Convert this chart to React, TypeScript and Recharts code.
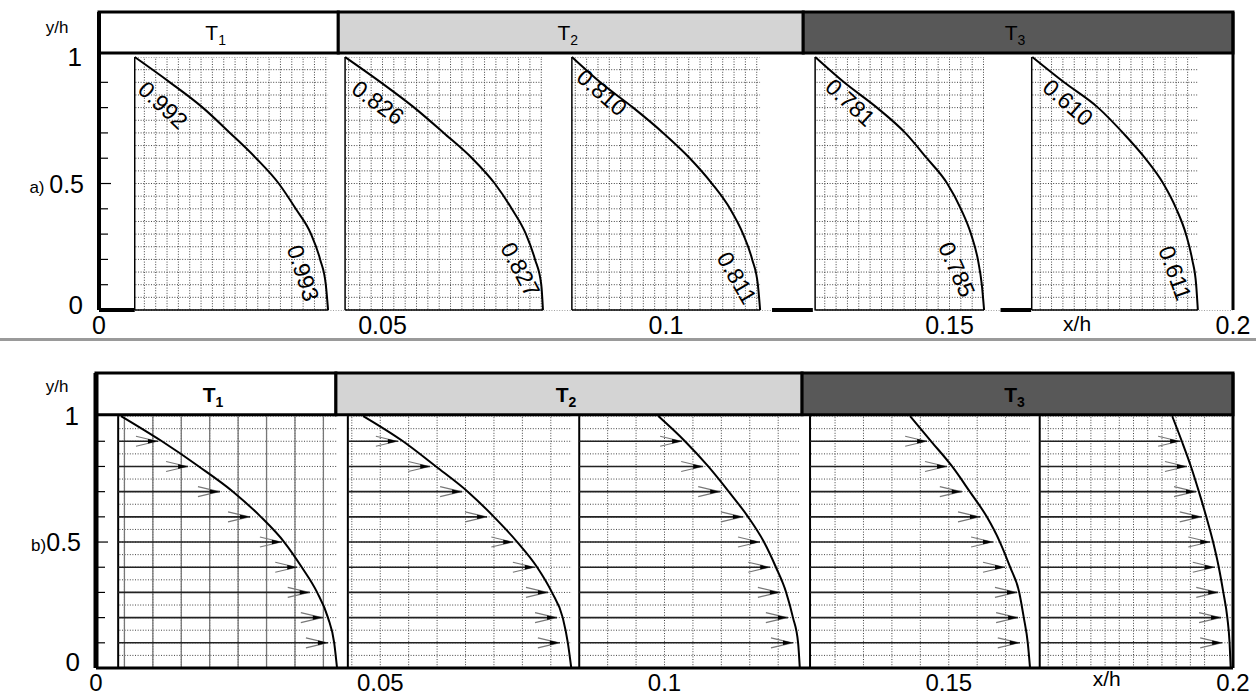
import React from 'react';
import {
  ComposedChart,
  Line,
  XAxis,
  YAxis,
  CartesianGrid,
  ReferenceArea,
  ReferenceLine,
  ReferenceDot,
} from 'recharts';

const FONT = '"Liberation Sans", Arial, Helvetica, sans-serif';

// y/h levels at which the profiles were read (top to bottom)
const yLevels = [1, 0.9, 0.8, 0.7, 0.6, 0.5, 0.4, 0.3, 0.2, 0.1, 0];
const arrowLevels = [0.9, 0.8, 0.7, 0.6, 0.5, 0.4, 0.3, 0.2, 0.1];

// ---------- panel a : profile curves (x/h at each y level) ----------
const a1X = [0.0063, 0.0125, 0.0183, 0.0231, 0.0277, 0.0317, 0.0347, 0.0374, 0.039, 0.04, 0.0404];
const a2X = [0.0434, 0.0497, 0.0556, 0.0608, 0.0658, 0.0698, 0.0728, 0.0753, 0.0769, 0.078, 0.0783];
const a3X = [0.0834, 0.0884, 0.0942, 0.0995, 0.1042, 0.1081, 0.1113, 0.1136, 0.1152, 0.1162, 0.1166];
const a4X = [0.1263, 0.1314, 0.1372, 0.1422, 0.146, 0.1496, 0.152, 0.1538, 0.155, 0.1557, 0.1561];
const a5X = [0.1646, 0.1702, 0.1762, 0.1806, 0.1845, 0.1877, 0.19, 0.1917, 0.1928, 0.1935, 0.1938];
const aProfiles = [a1X, a2X, a3X, a4X, a5X];
const aLeft = [0.0063, 0.0434, 0.0834, 0.1263, 0.1645];
const aRight = [0.0404, 0.0783, 0.1166, 0.1561, 0.1938];
const aThickStart = [0, 0.1187, 0.159];
const aThickEnd = [0.0063, 0.1259, 0.1644];

const aTopText = ['0.992', '0.826', '0.810', '0.781', '0.610'];
const aTopX = [0.0113, 0.0492, 0.0887, 0.1325, 0.1709];
const aTopY = [0.81, 0.82, 0.86, 0.82, 0.82];
const aTopAngle = [43, 36, 41, 43, 41];
const aBotText = ['0.993', '0.827', '0.811', '0.785', '0.611'];
const aBotX = [0.036, 0.0743, 0.1125, 0.1513, 0.1898];
const aBotY = [0.146, 0.16, 0.127, 0.16, 0.146];
const aBotAngle = [72, 62, 60, 66, 70];

// ---------- panel b : profile curves and arrows ----------
const b1X = [0.0044, 0.0116, 0.0181, 0.0241, 0.029, 0.0331, 0.0362, 0.0389, 0.0408, 0.0419, 0.0424];
const b2X = [0.047, 0.054, 0.0598, 0.0654, 0.07, 0.0741, 0.0776, 0.0802, 0.0821, 0.083, 0.0836];
const b3X = [0.0989, 0.1036, 0.1077, 0.1113, 0.1147, 0.1175, 0.1196, 0.1214, 0.1226, 0.1235, 0.1238];
const b4X = [0.1432, 0.1469, 0.1506, 0.1537, 0.1567, 0.159, 0.1608, 0.1624, 0.1632, 0.1639, 0.1643];
const b5X = [0.1893, 0.191, 0.1926, 0.194, 0.1953, 0.1965, 0.1975, 0.1983, 0.199, 0.1994, 0.1996];
const bProfiles = [b1X, b2X, b3X, b4X, b5X];
const bLeft = [0.0039, 0.0443, 0.085, 0.1256, 0.166];
const bRight = [0.0424, 0.0836, 0.1238, 0.1643, 0.1996];

// arrow tips (x/h) at y = 0.9 ... 0.1
const b1Arrow = [0.0109, 0.0162, 0.0218, 0.0271, 0.0327, 0.0354, 0.0376, 0.0399, 0.0408];
const b2Arrow = [0.0531, 0.0588, 0.0644, 0.0688, 0.0734, 0.0772, 0.0795, 0.0811, 0.0816];
const b3Arrow = [0.1031, 0.1068, 0.1098, 0.1138, 0.1168, 0.1186, 0.1203, 0.1217, 0.1226];
const b4Arrow = [0.1462, 0.1497, 0.1523, 0.1555, 0.1578, 0.1599, 0.162, 0.1622, 0.1625];
const b5Arrow = [0.1907, 0.1919, 0.1935, 0.1945, 0.196, 0.1968, 0.1974, 0.1979, 0.1981];
const bArrows = [b1Arrow, b2Arrow, b3Arrow, b4Arrow, b5Arrow];

// ---------- header bands ----------
const headerSubs = ['1', '2', '3'];
const headerStart = [0, 0.0422, 0.1242];
const headerEnd = [0.0422, 0.1242, 0.2];
const headerFills = ['#ffffff', '#d4d4d4', '#585858'];

// ---------- ticks ----------
const xTicksA = Array.from({ length: 101 }, (_, i) => Math.round(i * 2) / 1000);
const xTicksB = Array.from({ length: 41 }, (_, i) => Math.round(i * 5) / 1000);
const yTicks = Array.from({ length: 21 }, (_, i) => Math.round(i * 5) / 100);

const toPts = (xs: number[]) => xs.map((x, i) => ({ x, y: yLevels[i] }));

const isMult = (v: number, step: number) => Math.abs(v / step - Math.round(v / step)) < 1e-6;

function makeXTick(dy: number, size: number) {
  return (props: any) => {
    const { x, y, payload } = props;
    const v = payload.value;
    if (!isMult(v, 0.05)) return <g />;
    return (
      <text x={x} y={y + dy} textAnchor="middle" fontSize={size} fontFamily={FONT} fill="#000">
        {String(Math.round(v * 100) / 100)}
      </text>
    );
  };
}

function makeYTick(prefix: string, zeroDy: number, yhDx: number) {
  return (props: any) => {
    const { x, y, payload } = props;
    const v = payload.value;
    const parts: any[] = [];
    if (isMult(v, 0.1) && v > 0.01 && v < 0.99) {
      parts.push(
        <line key="t" x1={x} x2={x + (Math.abs(v - 0.5) < 1e-6 ? 12 : 9)} y1={y} y2={y} stroke="#000" strokeWidth={1.2} />
      );
    }
    if (Math.abs(v - 1) < 1e-6) {
      parts.push(
        <text key="l" x={x - 17} y={y + 9} textAnchor="end" fontSize={26} fontFamily={FONT} fill="#000">1</text>
      );
      parts.push(
        <text key="yh" x={x - yhDx} y={y - 24} textAnchor="middle" fontSize={17} fontFamily={FONT} fill="#000">y/h</text>
      );
    } else if (Math.abs(v - 0.5) < 1e-6) {
      parts.push(
        <text key="l" x={x - 15} y={y + 9} textAnchor="end" fontFamily={FONT} fill="#000">
          <tspan fontSize={17}>{prefix}</tspan>
          <tspan fontSize={25}>0.5</tspan>
        </text>
      );
    } else if (Math.abs(v) < 1e-6) {
      parts.push(
        <text key="l" x={x - 16} y={y + zeroDy} textAnchor="end" fontSize={26} fontFamily={FONT} fill="#000">0</text>
      );
    }
    return <g>{parts}</g>;
  };
}

const headerLabel = (sub: string, bold: boolean) => (props: any) => {
  const vb = props.viewBox || {};
  const cx = vb.x + vb.width / 2;
  const cy = vb.y + vb.height / 2;
  return (
    <text x={cx - 3} y={cy + 8} textAnchor="middle" fontFamily={FONT} fontSize={21} fontWeight={bold ? 700 : 400} fill="#000">
      T<tspan fontSize={14} dy={5}>{sub}</tspan>
    </text>
  );
};

const rotatedText = (text: string, angle: number, size: number) => (props: any) => {
  const { cx, cy } = props;
  return (
    <text
      x={cx}
      y={cy}
      textAnchor="middle"
      dominantBaseline="central"
      fontFamily={FONT}
      fontSize={size}
      fill="#000"
      transform={`rotate(${angle} ${cx} ${cy})`}
    >
      {text}
    </text>
  );
};

const plainText = (text: string, dy: number) => (props: any) => {
  const { cx, cy } = props;
  return (
    <text x={cx} y={cy + dy} textAnchor="middle" fontFamily={FONT} fontSize={21} fill="#000">
      {text}
    </text>
  );
};

const arrowHead = (props: any) => {
  const { cx, cy } = props;
  return (
    <g>
      <polyline
        points={`${cx - 22},${cy - 5} ${cx - 1},${cy} ${cx - 22},${cy + 5}`}
        fill="none"
        stroke="#777"
        strokeWidth={1.2}
      />
      <polygon points={`${cx},${cy} ${cx - 10},${cy - 2.2} ${cx - 10},${cy + 2.2}`} fill="#000" />
    </g>
  );
};

const gridStyle = { stroke: '#444', strokeDasharray: '1 1.6', strokeWidth: 1 };

function PanelA() {
  const gapsStart = [0, ...aRight];
  const gapsEnd = [...aLeft, 0.2];
  return (
    <ComposedChart width={1256} height={345} margin={{ top: 12, right: 23, left: 0, bottom: 5 }}>
      <CartesianGrid {...gridStyle} />
      <XAxis
        dataKey="x"
        type="number"
        domain={[0, 0.2]}
        allowDataOverflow
        ticks={xTicksA}
        interval={0}
        tick={makeXTick(24, 25)}
        tickLine={false}
        tickSize={0}
        tickMargin={0}
        axisLine={false}
        height={30}
      />
      <YAxis
        type="number"
        domain={[0, 1.178]}
        allowDataOverflow
        ticks={yTicks}
        interval={0}
        tick={makeYTick('a) ', 4, 42)}
        tickLine={false}
        tickSize={0}
        tickMargin={0}
        axisLine={{ stroke: '#000', strokeWidth: 4 }}
        width={99}
      />
      {gapsStart.map((s, i) => (
        <ReferenceArea key={'ga' + i} x1={s} x2={gapsEnd[i]} y1={0} y2={1.016} fill="#fff" fillOpacity={1} stroke="none" />
      ))}
      <ReferenceArea x1={0} x2={0.2} y1={1} y2={1.016} fill="#fff" fillOpacity={1} stroke="none" />
      {headerSubs.map((s, i) => (
        <ReferenceArea
          key={'ha' + i}
          x1={headerStart[i]}
          x2={headerEnd[i]}
          y1={1.016}
          y2={1.178}
          fill={headerFills[i]}
          fillOpacity={1}
          stroke="#000"
          strokeWidth={3}
          label={headerLabel(s, false)}
        />
      ))}
      {aLeft.map((l, i) => (
        <ReferenceLine key={'la' + i} segment={[{ x: l, y: 0 }, { x: l, y: 1 }]} stroke="#000" strokeWidth={1.5} />
      ))}
      {aLeft.map((l, i) => (
        <ReferenceLine key={'ba' + i} segment={[{ x: l, y: 0 }, { x: aRight[i], y: 0 }]} stroke="#000" strokeWidth={1.5} />
      ))}
      {aThickStart.map((s, i) => (
        <ReferenceLine key={'ta' + i} segment={[{ x: s, y: 0 }, { x: aThickEnd[i], y: 0 }]} stroke="#000" strokeWidth={4} />
      ))}
      <ReferenceLine segment={[{ x: 0.2, y: 0 }, { x: 0.2, y: 1.178 }]} stroke="#000" strokeWidth={3} />
      {aProfiles.map((xs, i) => (
        <Line
          key={'pa' + i}
          data={toPts(xs)}
          dataKey="y"
          type="monotone"
          stroke="#000"
          strokeWidth={2}
          dot={false}
          activeDot={false}
          isAnimationActive={false}
        />
      ))}
      {aTopText.map((t, i) => (
        <ReferenceDot key={'lt' + i} x={aTopX[i]} y={aTopY[i]} shape={rotatedText(t, aTopAngle[i], 23)} />
      ))}
      {aBotText.map((t, i) => (
        <ReferenceDot key={'lb' + i} x={aBotX[i]} y={aBotY[i]} shape={rotatedText(t, aBotAngle[i], 23)} />
      ))}
      <ReferenceDot x={0.1725} y={0} shape={plainText('x/h', 21)} />
    </ComposedChart>
  );
}

function PanelB() {
  const gapsStart = [0, ...bRight.slice(0, 4)];
  const gapsEnd = [...bLeft];
  const solidB1 = xTicksB.filter((v) => v > bLeft[0] + 0.001 && v < bRight[0]);
  const extraB5 = xTicksB.filter((v) => v > bLeft[4] && v < 0.2).map((v) => Math.round((v - 0.0025) * 10000) / 10000);
  return (
    <ComposedChart width={1256} height={350} margin={{ top: 28, right: 23, left: 0, bottom: 3 }}>
      <CartesianGrid {...gridStyle} />
      <XAxis
        dataKey="x"
        type="number"
        domain={[0, 0.2]}
        allowDataOverflow
        ticks={xTicksB}
        interval={0}
        tick={makeXTick(23, 24)}
        tickLine={false}
        tickSize={0}
        tickMargin={0}
        axisLine={{ stroke: '#000', strokeWidth: 3 }}
        height={24}
      />
      <YAxis
        type="number"
        domain={[0, 1.171]}
        allowDataOverflow
        ticks={yTicks}
        interval={0}
        tick={makeYTick('b)', 3, 39)}
        tickLine={false}
        tickSize={0}
        tickMargin={0}
        axisLine={{ stroke: '#000', strokeWidth: 5 }}
        width={96}
      />
      {gapsStart.map((s, i) => (
        <ReferenceArea key={'gb' + i} x1={s} x2={gapsEnd[i]} y1={0} y2={1.005} fill="#fff" fillOpacity={1} stroke="none" />
      ))}
      {headerSubs.map((s, i) => (
        <ReferenceArea
          key={'hb' + i}
          x1={headerStart[i]}
          x2={headerEnd[i]}
          y1={1.005}
          y2={1.171}
          fill={headerFills[i]}
          fillOpacity={1}
          stroke="#000"
          strokeWidth={3}
          label={headerLabel(s, true)}
        />
      ))}
      {extraB5.map((v, i) => (
        <ReferenceLine key={'eb' + i} segment={[{ x: v, y: 0 }, { x: v, y: 1 }]} stroke="#444" strokeDasharray="1 1.6" />
      ))}
      {solidB1.map((v, i) => (
        <ReferenceLine key={'sb' + i} segment={[{ x: v, y: 0 }, { x: v, y: 1 }]} stroke="#777" strokeWidth={1.3} />
      ))}
      {bLeft.map((l, i) => (
        <ReferenceLine key={'lb' + i} segment={[{ x: l, y: 0 }, { x: l, y: 1 }]} stroke="#000" strokeWidth={2} />
      ))}
      <ReferenceLine segment={[{ x: 0.2, y: 0 }, { x: 0.2, y: 1.171 }]} stroke="#000" strokeWidth={3} />
      {bArrows.map((tips, p) =>
        tips.map((tip, k) => (
          <ReferenceLine
            key={'ar' + p + '_' + k}
            segment={[{ x: bLeft[p], y: arrowLevels[k] }, { x: tip, y: arrowLevels[k] }]}
            stroke="#222"
            strokeWidth={1.6}
          />
        ))
      )}
      {bArrows.map((tips, p) =>
        tips.map((tip, k) => <ReferenceDot key={'ah' + p + '_' + k} x={tip} y={arrowLevels[k]} shape={arrowHead} />)
      )}
      {bProfiles.map((xs, i) => (
        <Line
          key={'pb' + i}
          data={toPts(xs)}
          dataKey="y"
          type="monotone"
          stroke="#000"
          strokeWidth={2}
          dot={false}
          activeDot={false}
          isAnimationActive={false}
        />
      ))}
      <ReferenceDot x={0.1778} y={0} shape={plainText('x/h', 18)} />
    </ComposedChart>
  );
}

export default function App() {
  return (
    <div style={{ position: 'fixed', left: 0, top: 0, width: 1256, height: 695, background: '#fff', overflow: 'hidden' }}>
      <div style={{ position: 'absolute', left: 0, top: 0 }}>
        <PanelA />
      </div>
      <div style={{ position: 'absolute', left: 0, top: 338, width: 1256, height: 3, background: '#9a9a9a' }} />
      <div style={{ position: 'absolute', left: 0, top: 345 }}>
        <PanelB />
      </div>
    </div>
  );
}
